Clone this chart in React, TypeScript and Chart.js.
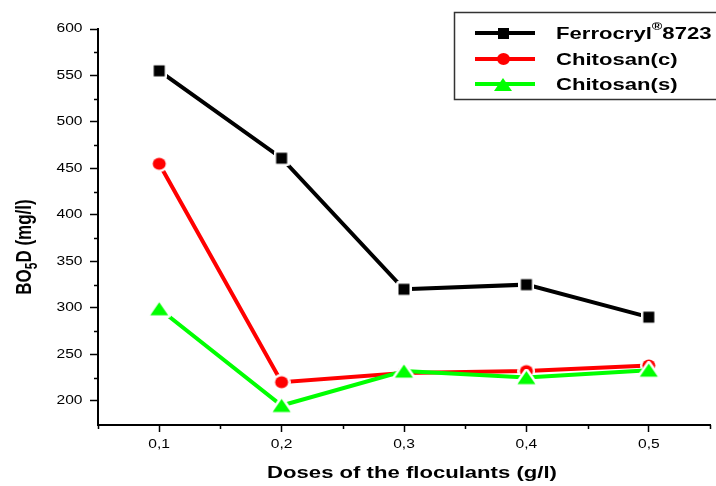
import React, { useEffect, useRef } from "react";
import { Chart, registerables } from "chart.js";

Chart.register(...registerables);

const doses = [0.1, 0.2, 0.3, 0.4, 0.5];
const ferrocryl = [555, 461, 320, 325, 290];
const chitosanC = [455, 220, 230, 232, 238];
const chitosanS = [299, 195, 232, 225, 233];
const yMajorTicks = [200, 250, 300, 350, 400, 450, 500, 550, 600];
const yMinorTicks = [225, 275, 325, 375, 425, 475, 525, 575];
const xMajorTicks = [0.1, 0.2, 0.3, 0.4, 0.5];
const xMinorTicks = [0.05, 0.15, 0.25, 0.35, 0.45, 0.55];

const seriesNames = ["Ferrocryl", "Chitosan(c)", "Chitosan(s)"];
const seriesColors = ["#000000", "#ff0000", "#00ff00"];

const FONT = "'Liberation Sans', Arial, sans-serif";
const SX = 1.3; // horizontal stretch of the original picture

function makeMarker(kind: number, color: string, gap: number): HTMLCanvasElement {
  const w = kind === 0 ? 11 : kind === 1 ? 13 : 18;
  const h = kind === 0 ? 11 : kind === 1 ? 12 : 13;
  const c = document.createElement("canvas");
  c.width = w + gap * 2;
  c.height = h + gap * 2;
  const ctx = c.getContext("2d")!;
  const path = () => {
    ctx.beginPath();
    if (kind === 0) {
      ctx.rect(gap, gap, w, h);
    } else if (kind === 1) {
      ctx.ellipse(gap + w / 2, gap + h / 2, w / 2, h / 2, 0, 0, Math.PI * 2);
    } else {
      ctx.moveTo(gap + w / 2, gap);
      ctx.lineTo(gap + w, gap + h);
      ctx.lineTo(gap, gap + h);
      ctx.closePath();
    }
  };
  if (gap > 0) {
    path();
    ctx.strokeStyle = "#ffffff";
    ctx.lineJoin = "round";
    ctx.lineWidth = gap * 2;
    ctx.stroke();
  }
  path();
  ctx.fillStyle = color;
  ctx.fill();
  return c;
}

function stretchedText(ctx: any, text: string, x: number, y: number, align: string) {
  ctx.save();
  const w = ctx.measureText(text).width * SX;
  let left = x;
  if (align === "center") left = x - w / 2;
  else if (align === "right") left = x - w;
  ctx.translate(left, y);
  ctx.scale(SX, 1);
  ctx.textAlign = "left";
  ctx.fillText(text, 0, 0);
  ctx.restore();
  return w;
}

const decorPlugin = {
  id: "decor",
  afterDraw(chart: any) {
    const ctx = chart.ctx;
    const xs = chart.scales.x;
    const ys = chart.scales.y;
    const area = chart.chartArea;
    ctx.save();
    // minor ticks
    ctx.strokeStyle = "#000";
    ctx.lineWidth = 1.5;
    ctx.beginPath();
    yMinorTicks.forEach((v) => {
      const y = Math.round(ys.getPixelForValue(v)) + 0.5;
      ctx.moveTo(area.left - 4, y);
      ctx.lineTo(area.left, y);
    });
    xMinorTicks.forEach((v) => {
      const x = Math.round(xs.getPixelForValue(v)) + 0.5;
      ctx.moveTo(x, area.bottom);
      ctx.lineTo(x, area.bottom + 4);
    });
    ctx.stroke();

    // tick labels
    ctx.fillStyle = "#000";
    ctx.font = `12px ${FONT}`;
    ctx.textBaseline = "middle";
    yMajorTicks.forEach((v) => {
      stretchedText(ctx, String(v), area.left - 15.5, ys.getPixelForValue(v), "right");
    });
    xMajorTicks.forEach((v) => {
      stretchedText(ctx, v.toFixed(1).replace(".", ","), xs.getPixelForValue(v), 444.5, "center");
    });

    // axis titles
    ctx.font = `bold 17px ${FONT}`;
    stretchedText(ctx, "Doses of the floculants (g/l)", 412, 473, "center");

    ctx.save();
    ctx.translate(25, 247);
    ctx.rotate(-Math.PI / 2);
    ctx.scale(1, SX);
    const parts = [
      { t: "BO", size: 17, dy: 0 },
      { t: "5", size: 12, dy: 6 },
      { t: "D (mg/l)", size: 17, dy: 0 },
    ];
    let total = 0;
    parts.forEach((p) => {
      ctx.font = `bold ${p.size}px ${FONT}`;
      total += ctx.measureText(p.t).width;
    });
    let cx = -total / 2;
    ctx.textAlign = "left";
    parts.forEach((p) => {
      ctx.font = `bold ${p.size}px ${FONT}`;
      ctx.fillText(p.t, cx, p.dy);
      cx += ctx.measureText(p.t).width;
    });
    ctx.restore();

    // legend
    ctx.strokeStyle = "#333";
    ctx.lineWidth = 1.5;
    ctx.strokeRect(454.5, 12.5, 270, 87);
    const rows = [33, 59, 84];
    rows.forEach((ry, i) => {
      ctx.strokeStyle = seriesColors[i];
      ctx.lineWidth = 4;
      ctx.beginPath();
      ctx.moveTo(475, ry);
      ctx.lineTo(535, ry);
      ctx.stroke();
      const m = makeMarker(i, seriesColors[i], 0);
      ctx.drawImage(m, Math.round(503 - m.width / 2), Math.round(ry - m.height / 2));
      ctx.fillStyle = "#000";
      ctx.textBaseline = "middle";
      ctx.font = `bold 17px ${FONT}`;
      let tx = 556;
      tx += stretchedText(ctx, seriesNames[i], tx, ry + 1, "left");
      if (i === 0) {
        ctx.font = `bold 11px ${FONT}`;
        tx += stretchedText(ctx, "®", tx, ry - 6, "left");
        ctx.font = `bold 17px ${FONT}`;
        stretchedText(ctx, "8723", tx, ry + 1, "left");
      }
    });
    ctx.restore();
  },
};

export default function App() {
  const ref = useRef<HTMLCanvasElement | null>(null);
  useEffect(() => {
    if (!ref.current) return;
    const series = [ferrocryl, chitosanC, chitosanS];
    const chart = new Chart(ref.current, {
      type: "line",
      data: {
        datasets: series.map((s, i) => ({
          label: seriesNames[i],
          data: doses.map((d, j) => ({ x: d, y: s[j] })),
          borderColor: seriesColors[i],
          backgroundColor: seriesColors[i],
          borderWidth: 4,
          pointStyle: makeMarker(i, seriesColors[i], 2.5) as any,
          pointRadius: 8,
          tension: 0,
          order: 2 - i,
        })),
      },
      options: {
        responsive: false,
        animation: false,
        layout: { autoPadding: false, padding: { top: 29, right: 6, left: 0, bottom: 0 } },
        plugins: { legend: { display: false }, tooltip: { enabled: false } },
        scales: {
          x: {
            type: "linear",
            min: 0.05,
            max: 0.55,
            afterBuildTicks: (s: any) => {
              s.ticks = xMajorTicks.map((v) => ({ value: v }));
            },
            afterFit: (s: any) => {
              s.height = 61;
            },
            ticks: { display: false },
            grid: {
              drawOnChartArea: false,
              tickLength: 7,
              tickColor: "#000",
              tickWidth: 1.5,
            },
            border: { color: "#000", width: 2 },
          },
          y: {
            type: "linear",
            min: 174,
            max: 600,
            afterBuildTicks: (s: any) => {
              s.ticks = yMajorTicks.map((v) => ({ value: v }));
            },
            afterFit: (s: any) => {
              s.width = 98;
            },
            ticks: { display: false },
            grid: {
              drawOnChartArea: false,
              tickLength: 8,
              tickColor: "#000",
              tickWidth: 1.5,
            },
            border: { color: "#000", width: 2 },
          },
        },
      },
      plugins: [decorPlugin],
    } as any);
    return () => chart.destroy();
  }, []);
  return (
    <div style={{ position: "fixed", left: 0, top: 0, width: 716, height: 486, background: "#fff" }}>
      <canvas ref={ref} width={716} height={486} style={{ width: 716, height: 486 }} />
    </div>
  );
}
